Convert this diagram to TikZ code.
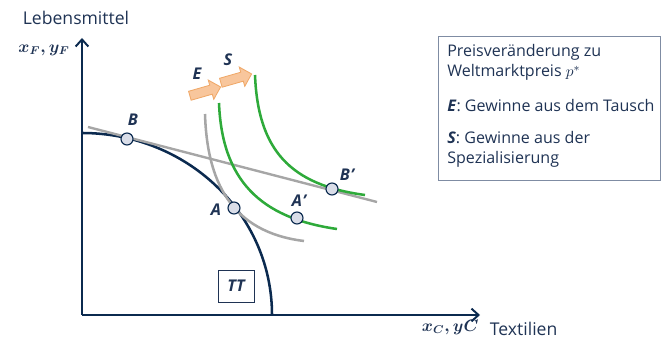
\documentclass[tikz,border=0pt]{standalone}
\usepackage{fontspec}
\setmainfont{Open Sans}
\usetikzlibrary{arrows.meta,shapes.arrows}
\definecolor{navy}{HTML}{0B2A4F}
\definecolor{txtblue}{HTML}{1F3354}
\definecolor{icgreen}{HTML}{2EAA3A}
\definecolor{pricegray}{HTML}{A6A6A6}
\definecolor{gainfill}{HTML}{F8C69C}
\definecolor{gaindraw}{HTML}{F0A868}
\definecolor{boxdraw}{HTML}{7F8CA3}
\definecolor{ptfill}{HTML}{D9DDE8}

\begin{document}
\begin{tikzpicture}[x=0.025cm,y=-0.025cm,
    axis/.style={navy,line width=1.4pt,-{Straight Barb[length=5pt,width=9pt,line width=1.4pt]}},
    pt/.style={circle,draw=navy,fill=ptfill,line width=0.8pt,minimum size=0.3cm,inner sep=0pt},
    ptlabel/.style={txtblue,font=\fontsize{11.5}{13}\selectfont\bfseries\itshape},
    axlabel/.style={txtblue,font=\fontsize{12.5}{14}\selectfont},
    mathlabel/.style={txtblue,font=\fontsize{11.8}{14}\selectfont\boldmath},
    gain/.style={single arrow,draw=gaindraw,fill=gainfill,line width=0.6pt,
      minimum height=0.8cm,minimum width=0.5cm,inner sep=3pt,single arrow head extend=3.8pt}]
  \useasboundingbox (0,0) rectangle (670,339);
  % axes
  \draw[axis] (82,315) -- (82,38);
  \draw[axis] (82,315) -- (480,315);
  \node[axlabel] at (76,18) {Lebensmittel};
  \node[mathlabel] at (44,50) {$x_F, y_F$};
  \node[mathlabel,anchor=west] at (417,327) {$x_C, yC$};
  \node[axlabel,anchor=west] at (485,329) {Textilien};
  % transformation curve
  \draw[navy,line width=1.8pt] (82,133) .. controls (187,133) and (272,214) .. (272,315);
  \node[draw=boxdraw,line width=0.6pt,minimum width=0.9cm,minimum height=0.8cm,
    ptlabel] (tt) at (236,286) {TT};
  % price lines and indifference curves
  \draw[pricegray,line width=1.7pt] (88,127) -- (377,202);
  \draw[pricegray,line width=1.8pt] (205,114) .. controls (207,180) and (230,232) .. (304,241);
  \draw[icgreen,line width=1.8pt] (219,103) .. controls (222,180) and (260,218) .. (337,229);
  \draw[icgreen,line width=1.8pt] (255,75) .. controls (258,150) and (290,185) .. (365,195);
  % points
  \node[pt] (b) at (127,139) {};
  \node[pt] (a) at (234,208) {};
  \node[pt] (a2) at (297,218) {};
  \node[pt] (b2) at (332,189) {};
  \node[ptlabel] at (133,120) {B};
  \node[ptlabel] at (216,210) {A};
  \node[ptlabel] at (299,201) {A\kern0.5pt'};
  \node[ptlabel] at (347,175) {B\kern0.5pt'};
  % gains
  \node[gain,rotate=16] (arrE) at (203,92) {};
  \node[gain,rotate=16] (arrS) at (234,79) {};
  \node[ptlabel] at (197,74) {E};
  \node[ptlabel] at (228,60) {S};
  % legend
  \draw[boxdraw,line width=0.6pt] (438,36) rectangle (660,180);
  \node[txtblue,anchor=north west,align=left,inner sep=0pt,
    font=\fontsize{11.4}{14.6}\selectfont] (legend) at (447,44)
    {Preisveränderung zu\\Weltmarktpreis $p^*$\\[10pt]
     \textbf{\textit{E}}: Gewinne aus dem Tausch\\[8pt]
     \textbf{\textit{S}}: Gewinne aus der\\Spezialisierung};
\end{tikzpicture}
\end{document}
